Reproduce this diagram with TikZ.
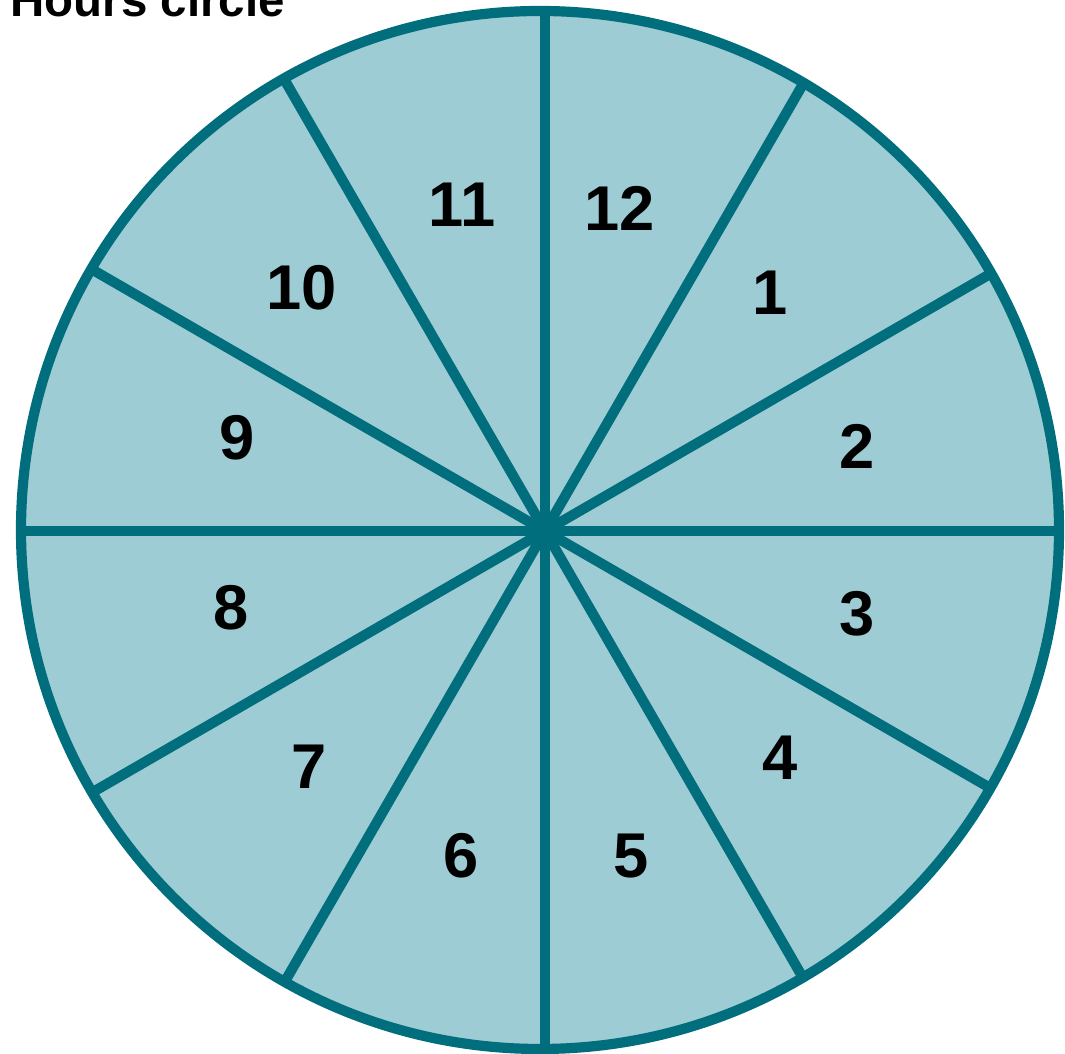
\documentclass[tikz,border=0pt]{standalone}
\usepackage{fontspec}
\setmainfont{Liberation Sans}
\usepackage{xcolor}
\definecolor{hourfill}{RGB}{158,204,212}
\definecolor{hourline}{RGB}{0,110,124}

\begin{document}
\begin{tikzpicture}[every node/.style={font=\bfseries\fontsize{18}{20}\selectfont, inner sep=0pt}]
\tikzstyle{rim}=[draw=hourline, line width=2.9pt]
\tikzstyle{spoke}=[draw=hourline, line width=2.9pt]
\useasboundingbox (0,0) rectangle (10.65,10.54);
\coordinate (c) at (5.40,5.24);
\coordinate (hub) at (5.45,5.23);
\fill[hourfill] (c) circle (5.19);
\begin{scope}
\clip (c) circle (5.19);
\foreach \a in {0,30,...,330} \draw[spoke] (hub) -- ++(\a:6);
\end{scope}
\draw[rim] (c) circle (5.19);
% title
\node[anchor=base west, font=\bfseries\fontsize{13.5}{15}\selectfont] (title) at (0.10,10.37) {Hours circle};
% hour labels
\node (h12) at (6.20,8.46) {12};
\node (h1) at (7.70,7.61) {1};
\node (h2) at (8.57,6.08) {2};
\node (h3) at (8.57,4.40) {3};
\node (h4) at (7.80,2.96) {4};
\node (h5) at (6.31,1.98) {5};
\node (h6) at (4.61,1.98) {6};
\node (h7) at (3.09,2.87) {7};
\node (h8) at (2.31,4.46) {8};
\node (h9) at (2.37,6.16) {9};
\node (h10) at (3.02,7.66) {10};
\node (h11) at (4.62,8.49) {11};
\end{tikzpicture}
\end{document}
